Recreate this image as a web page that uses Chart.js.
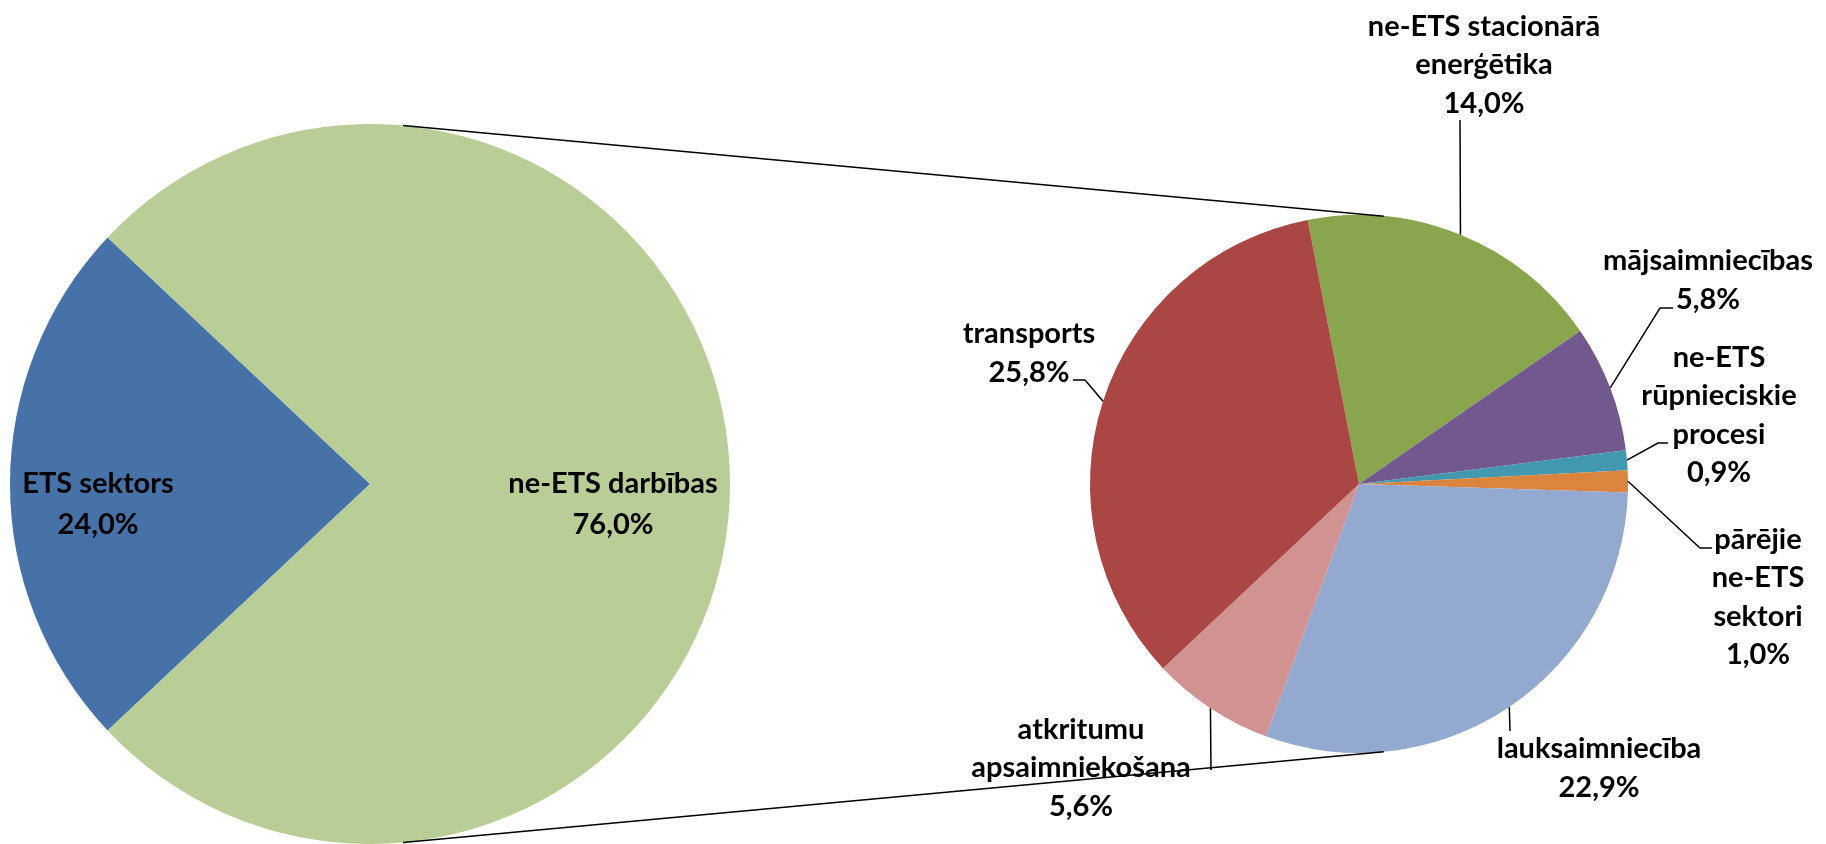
<!DOCTYPE html>
<html>
<head>
<meta charset="utf-8">
<script src="https://cdn.jsdelivr.net/npm/chart.js@4.4.1/dist/chart.umd.min.js"></script>
<style>
  html, body { margin: 0; padding: 0; background: #fff; overflow: hidden; }
  #wrap { position: relative; width: 1826px; height: 844px; }
  #wrap canvas { position: absolute; left: 0; top: 0; }
</style>
</head>
<body>
<div id="wrap">
  <canvas id="mainPie" width="1826" height="844"></canvas>
  <canvas id="subPie" width="1826" height="844"></canvas>
</div>
<script>
// main pie
const mainLabels = [['ETS sektors'], ['ne-ETS darbības']];
const mainValues = [24.0, 76.0];
const mainColors = ['#4672A8', '#B9CD96'];

// breakdown of ne-ETS
const subLabels = [
  ['ne-ETS stacionārā', 'enerģētika'],
  ['mājsaimniecības'],
  ['ne-ETS', 'rūpnieciskie', 'procesi'],
  ['pārējie', 'ne-ETS', 'sektori'],
  ['lauksaimniecība'],
  ['atkritumu', 'apsaimniekošana'],
  ['transports']
];
const subValues = [14.0, 5.8, 0.9, 1.0, 22.9, 5.6, 25.8];
const subColors = ['#89A54E', '#71588F', '#4198AF', '#DB843D', '#93A9CF', '#D19392', '#AA4643'];

const FONT = 'bold 29px Lato, "Open Sans", sans-serif';
const pct = v => v.toFixed(1).replace('.', ',') + '%';

// label placement, offsets from the pie centre (px)
const mainLabelPos = [[-272, 20], [243, 20]];
const subLabelPos = [
  { at: [125, -419], leader: [[101, -364]] },
  { at: [349, -204], leader: [[301, -176], [314, -176]] },
  { at: [360, -69],  leader: [[299, -41], [309, -41]] },
  { at: [399, 113],  leader: [[341, 64], [353, 64]] },
  { at: [240, 284],  leader: [[151, 247]] },
  { at: [-278, 284], leader: [[-148, 286]] },
  { at: [-330, -131], leader: [[-274, -104], [-286, -104]] }
];

function drawBlock(ctx, lines, x, y, lh) {
  ctx.save();
  ctx.font = FONT;
  ctx.fillStyle = '#000';
  ctx.textAlign = 'center';
  ctx.textBaseline = 'middle';
  const top = y - (lines.length - 1) * lh / 2;
  lines.forEach((t, i) => ctx.fillText(t, x, top + i * lh));
  ctx.restore();
}

const mainLabelPlugin = {
  id: 'mainLabels',
  afterDatasetsDraw(chart) {
    const ctx = chart.ctx;
    chart.getDatasetMeta(0).data.forEach((arc, i) => {
      const p = mainLabelPos[i];
      drawBlock(ctx, [...mainLabels[i], pct(mainValues[i])], arc.x + p[0], arc.y + p[1], 41);
    });
  }
};

const mainChart = new Chart(document.getElementById('mainPie'), {
  type: 'pie',
  data: {
    labels: mainLabels.map(l => l.join(' ')),
    datasets: [{
      data: mainValues,
      backgroundColor: mainColors,
      borderWidth: 0
    }]
  },
  options: {
    responsive: false,
    animation: false,
    rotation: 270 - mainValues[0] / (mainValues[0] + mainValues[1]) * 180,
    layout: { padding: { left: 10, right: 1096, top: 124, bottom: 0 } },
    plugins: { legend: { display: false }, tooltip: { enabled: false } }
  },
  plugins: [mainLabelPlugin]
});

const subLabelPlugin = {
  id: 'subLabels',
  afterDatasetsDraw(chart) {
    const ctx = chart.ctx;
    const arcs = chart.getDatasetMeta(0).data;

    // series lines: outer tangents of the two pies
    const big = mainChart.getDatasetMeta(0).data[0];
    const small = arcs[0];
    const R = big.outerRadius, r = small.outerRadius;
    const d = small.x - big.x;
    const s = (R - r) / d, c = Math.sqrt(1 - s * s);
    ctx.save();
    ctx.strokeStyle = '#000';
    ctx.lineWidth = 1.5;
    [-1, 1].forEach(dir => {
      ctx.beginPath();
      ctx.moveTo(big.x + R * s, big.y + dir * R * c);
      ctx.lineTo(small.x + r * s, small.y + dir * r * c);
      ctx.stroke();
    });

    arcs.forEach((arc, i) => {
      const mid = (arc.startAngle + arc.endAngle) / 2;
      const sx = arc.x + arc.outerRadius * Math.cos(mid);
      const sy = arc.y + arc.outerRadius * Math.sin(mid);
      const lp = subLabelPos[i];
      ctx.beginPath();
      ctx.moveTo(sx, sy);
      lp.leader.forEach(pt => ctx.lineTo(arc.x + pt[0], arc.y + pt[1]));
      ctx.stroke();
      drawBlock(ctx, [...subLabels[i], pct(subValues[i])], arc.x + lp.at[0], arc.y + lp.at[1], 38.5);
    });
    ctx.restore();
  }
};

new Chart(document.getElementById('subPie'), {
  type: 'pie',
  data: {
    labels: subLabels.map(l => l.join(' ')),
    datasets: [{
      data: subValues,
      backgroundColor: subColors,
      borderWidth: 0
    }]
  },
  options: {
    responsive: false,
    animation: false,
    rotation: -11,
    layout: { padding: { left: 1090, right: 198, top: 215, bottom: 91 } },
    plugins: { legend: { display: false }, tooltip: { enabled: false } }
  },
  plugins: [subLabelPlugin]
});
</script>
</body>
</html>
